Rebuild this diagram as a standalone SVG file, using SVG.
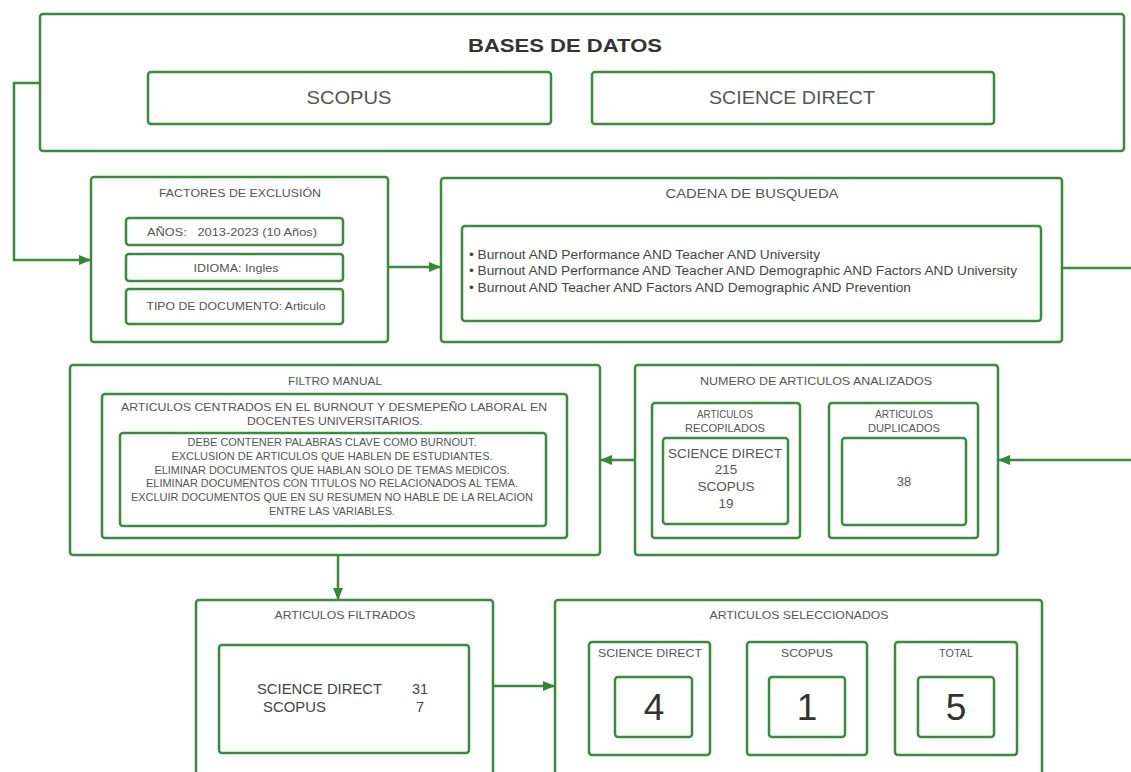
<svg xmlns="http://www.w3.org/2000/svg" width="1131" height="772" viewBox="0 0 1131 772">
<style>
.box{fill:#fff;stroke:#3b8b3e;stroke-width:2.5}
.t{font-family:"Liberation Sans",Arial,sans-serif;fill:#555;text-anchor:middle}
.l{font-family:"Liberation Sans",Arial,sans-serif;fill:#444}
.d{fill:#333}
.c{fill:none;stroke:#3b8b3e;stroke-width:2.5}
</style>
<defs>
<marker id="ah" viewBox="0 0 10 10" refX="9" refY="5" markerWidth="5" markerHeight="5" orient="auto" markerUnits="strokeWidth">
<path d="M0,1 L10,5 L0,9 z" fill="#2f8a33"/>
</marker>
</defs>
<rect width="1131" height="772" fill="#fff"/>

<g id="bases">
<rect class="box" x="40" y="14" width="1084" height="137" rx="3"/>
<text class="t d" x="565" y="52" font-size="19" font-weight="bold" textLength="194" lengthAdjust="spacingAndGlyphs">BASES DE DATOS</text>
</g>
<g id="scopus">
<rect class="box" x="148" y="72" width="403" height="52" rx="3"/>
<text class="t" x="349" y="104" font-size="18" textLength="85" lengthAdjust="spacingAndGlyphs">SCOPUS</text>
</g>
<g id="sciencedirect">
<rect class="box" x="592" y="72" width="402" height="52" rx="3"/>
<text class="t" x="792" y="104" font-size="18" textLength="166" lengthAdjust="spacingAndGlyphs">SCIENCE DIRECT</text>
</g>

<g id="factores">
<rect class="box" x="91" y="177" width="297" height="165" rx="3"/>
<text class="t" x="240" y="197" font-size="11.5" textLength="162" lengthAdjust="spacingAndGlyphs">FACTORES DE EXCLUSIÓN</text>
<rect class="box" x="126" y="218" width="217" height="27" rx="3"/>
<text class="t" x="232" y="236" font-size="11.5" xml:space="preserve" textLength="170" lengthAdjust="spacingAndGlyphs">AÑOS:   2013-2023 (10 Años)</text>
<rect class="box" x="126" y="254" width="217" height="27" rx="3"/>
<text class="t" x="236" y="272" font-size="11.5" textLength="85" lengthAdjust="spacingAndGlyphs">IDIOMA: Ingles</text>
<rect class="box" x="126" y="289" width="217" height="35" rx="3"/>
<text class="t" x="236" y="310" font-size="11.5" textLength="179" lengthAdjust="spacingAndGlyphs">TIPO DE DOCUMENTO: Articulo</text>
</g>

<g id="cadena">
<rect class="box" x="441" y="178" width="621" height="164" rx="3"/>
<text class="t" x="752" y="198" font-size="13" textLength="173" lengthAdjust="spacingAndGlyphs">CADENA DE BUSQUEDA</text>
<rect class="box" x="462" y="226" width="579" height="95" rx="3"/>
<text class="l" x="469" y="259" font-size="12.5" textLength="351" lengthAdjust="spacingAndGlyphs">• Burnout AND Performance AND Teacher AND University</text>
<text class="l" x="469" y="275" font-size="12.5" textLength="548" lengthAdjust="spacingAndGlyphs">• Burnout AND Performance AND Teacher AND Demographic AND Factors AND University</text>
<text class="l" x="469" y="292" font-size="12.5" textLength="442" lengthAdjust="spacingAndGlyphs">• Burnout AND Teacher AND Factors AND Demographic AND Prevention</text>
</g>

<g id="filtro">
<rect class="box" x="70" y="365" width="530" height="190" rx="3"/>
<text class="t" x="335" y="385" font-size="11" textLength="94" lengthAdjust="spacingAndGlyphs">FILTRO MANUAL</text>
<rect class="box" x="102" y="394" width="465" height="144" rx="3"/>
<text class="t" x="334" y="411" font-size="11.5" textLength="426" lengthAdjust="spacingAndGlyphs">ARTICULOS CENTRADOS EN EL BURNOUT Y DESMEPEÑO LABORAL EN</text>
<text class="t" x="335" y="425" font-size="11.5" textLength="176" lengthAdjust="spacingAndGlyphs">DOCENTES UNIVERSITARIOS.</text>
<rect class="box" x="120" y="433" width="426" height="93" rx="3"/>
<text class="t" x="332" y="446" font-size="10.5" textLength="289" lengthAdjust="spacingAndGlyphs">DEBE CONTENER PALABRAS CLAVE COMO BURNOUT.</text>
<text class="t" x="332" y="460" font-size="10.5" textLength="321" lengthAdjust="spacingAndGlyphs">EXCLUSION DE ARTICULOS QUE HABLEN DE ESTUDIANTES.</text>
<text class="t" x="332" y="474" font-size="10.5" textLength="355" lengthAdjust="spacingAndGlyphs">ELIMINAR DOCUMENTOS QUE HABLAN SOLO DE TEMAS MEDICOS.</text>
<text class="t" x="332" y="487" font-size="10.5" textLength="372" lengthAdjust="spacingAndGlyphs">ELIMINAR DOCUMENTOS CON TITULOS NO RELACIONADOS AL TEMA.</text>
<text class="t" x="332" y="501" font-size="10.5" textLength="402" lengthAdjust="spacingAndGlyphs">EXCLUIR DOCUMENTOS QUE EN SU RESUMEN NO HABLE DE LA RELACION</text>
<text class="t" x="332" y="515" font-size="10.5" textLength="126" lengthAdjust="spacingAndGlyphs">ENTRE LAS VARIABLES.</text>
</g>

<g id="numero">
<rect class="box" x="635" y="365" width="363" height="190" rx="3"/>
<text class="t" x="816" y="385" font-size="11.5" textLength="232" lengthAdjust="spacingAndGlyphs">NUMERO DE ARTICULOS ANALIZADOS</text>
</g>
<g id="recopilados">
<rect class="box" x="652" y="403" width="148" height="135" rx="3"/>
<text class="t" x="725" y="418" font-size="10.5" textLength="56" lengthAdjust="spacingAndGlyphs">ARTICULOS</text>
<text class="t" x="725" y="432" font-size="10.5" textLength="80" lengthAdjust="spacingAndGlyphs">RECOPILADOS</text>
<rect class="box" x="663" y="438" width="125" height="86" rx="3"/>
<text class="t" x="725" y="458" font-size="13.5" textLength="114" lengthAdjust="spacingAndGlyphs">SCIENCE DIRECT</text>
<text class="t" x="726" y="474" font-size="13.5">215</text>
<text class="t" x="726" y="491" font-size="13.5">SCOPUS</text>
<text class="t" x="726" y="508" font-size="13.5">19</text>
</g>
<g id="duplicados">
<rect class="box" x="829" y="403" width="149" height="135" rx="3"/>
<text class="t" x="904" y="418" font-size="10.5" textLength="58" lengthAdjust="spacingAndGlyphs">ARTICULOS</text>
<text class="t" x="904" y="432" font-size="10.5" textLength="72" lengthAdjust="spacingAndGlyphs">DUPLICADOS</text>
<rect class="box" x="842" y="438" width="124" height="87" rx="3"/>
<text class="t" x="904" y="486" font-size="13">38</text>
</g>

<g id="filtrados">
<rect class="box" x="196" y="600" width="297" height="190" rx="3"/>
<text class="t" x="345" y="619" font-size="11.5" textLength="141" lengthAdjust="spacingAndGlyphs">ARTICULOS FILTRADOS</text>
<rect class="box" x="219" y="645" width="250" height="108" rx="3"/>
<text class="l" x="257" y="694" font-size="14.5" textLength="125" lengthAdjust="spacingAndGlyphs">SCIENCE DIRECT</text>
<text class="l" x="412" y="694" font-size="14.5">31</text>
<text class="l" x="263" y="712" font-size="14.5" textLength="63" lengthAdjust="spacingAndGlyphs">SCOPUS</text>
<text class="l" x="416" y="712" font-size="14.5">7</text>
</g>

<g id="seleccionados">
<rect class="box" x="555" y="600" width="487" height="190" rx="3"/>
<text class="t" x="799" y="619" font-size="11.5" textLength="179" lengthAdjust="spacingAndGlyphs">ARTICULOS SELECCIONADOS</text>
</g>
<g id="sel-sd">
<rect class="box" x="589" y="642" width="121" height="113" rx="3"/>
<text class="t" x="650" y="657" font-size="11" textLength="104" lengthAdjust="spacingAndGlyphs">SCIENCE DIRECT</text>
<rect class="box" x="615" y="677" width="77" height="60" rx="3"/>
<text class="t d" x="654" y="720" font-size="37">4</text>
</g>
<g id="sel-scopus">
<rect class="box" x="747" y="642" width="120" height="113" rx="3"/>
<text class="t" x="807" y="657" font-size="11" textLength="52" lengthAdjust="spacingAndGlyphs">SCOPUS</text>
<rect class="box" x="769" y="677" width="76" height="60" rx="3"/>
<text class="t d" x="807" y="720" font-size="37">1</text>
</g>
<g id="sel-total">
<rect class="box" x="895" y="642" width="122" height="113" rx="3"/>
<text class="t" x="956" y="657" font-size="11" textLength="34" lengthAdjust="spacingAndGlyphs">TOTAL</text>
<rect class="box" x="918" y="677" width="76" height="60" rx="3"/>
<text class="t d" x="956" y="720" font-size="37">5</text>
</g>

<g id="connectors">
<path class="c" d="M40,83 H14 V260 H90" marker-end="url(#ah)"/>
<path class="c" d="M388,267 H440" marker-end="url(#ah)"/>
<path class="c" d="M1062,268 H1131"/>
<path class="c" d="M1131,460 H999" marker-end="url(#ah)"/>
<path class="c" d="M635,460 H601" marker-end="url(#ah)"/>
<path class="c" d="M338,555 V599" marker-end="url(#ah)"/>
<path class="c" d="M493,686 H554" marker-end="url(#ah)"/>
</g>
</svg>
